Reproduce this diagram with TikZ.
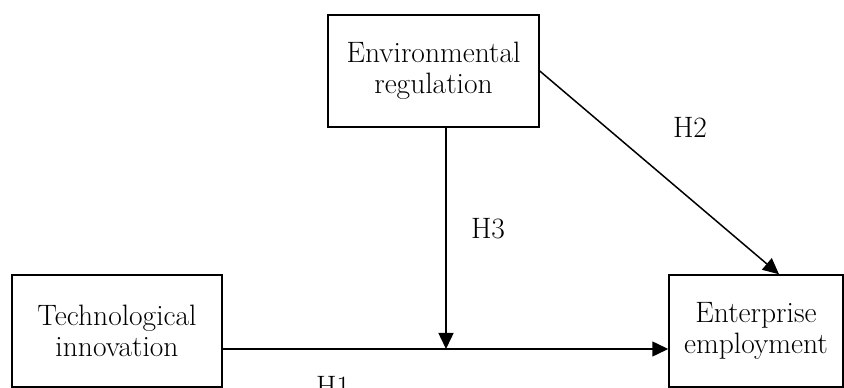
\documentclass[tikz,border=0pt]{standalone}
\usetikzlibrary{arrows.meta,positioning,calc}
\begin{document}
\begin{tikzpicture}[x=1pt,y=1pt,
    box/.style={draw,line width=1.5pt,minimum height=112pt,align=center,inner sep=0pt,font=\fontsize{29.5}{31}\selectfont},
    hyp/.style={font=\fontsize{29.5}{31}\selectfont},
    arr/.style={line width=1.5pt,-{Triangle[length=16pt,width=15pt]}}]
            \useasboundingbox (0,0) rectangle (844,388);
            \node[box,minimum width=211pt]
            (env) at (433.5,317) {Environmental\\regulation};
            \node[box,minimum width=210pt]
            (tech) at (117,57) {Technological\\innovation};
            \node[box,minimum width=174pt]
            (emp) at (756,57) {Enterprise\\employment};
            \coordinate (h1start) at ([yshift=-18pt]tech.east);
            \coordinate (h1end) at ([yshift=-18pt]emp.west);
            \draw[arr] (h1start) -- (h1end);
            \draw[arr] ([xshift=12.5pt]env.south) -- ([xshift=12.5pt]env.south |- h1start);
            \draw[arr] (env.east) -- ([xshift=23pt]emp.north);
            \node[hyp] (h1) at (333,2) {H1};
            \node[hyp] (h2) at (690,261) {H2};
            \node[hyp] (h3) at (488,159) {H3};
\end{tikzpicture}
\end{document}
